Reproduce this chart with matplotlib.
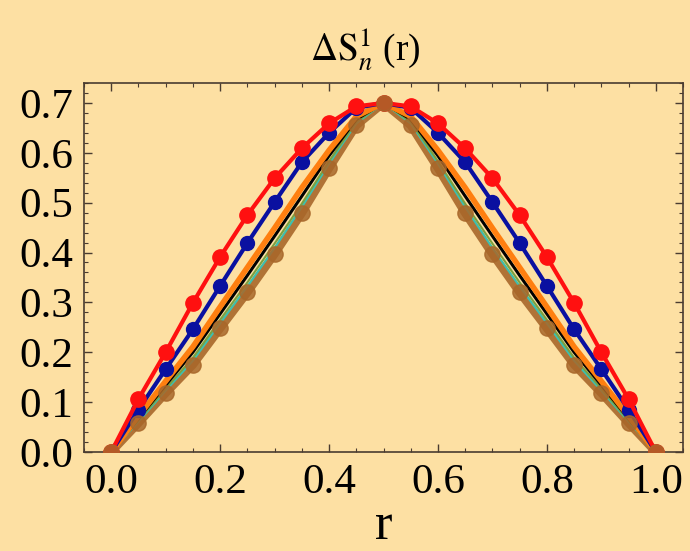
import numpy as np
import matplotlib.pyplot as plt
from matplotlib.ticker import MultipleLocator

# r grid (step 0.05)
r = [0.0, 0.05, 0.1, 0.15, 0.2, 0.25, 0.3, 0.35, 0.4, 0.45, 0.5,
     0.55, 0.6, 0.65, 0.7, 0.75, 0.8, 0.85, 0.9, 0.95, 1.0]

# Delta S values
s_red = [0.0, 0.106, 0.200, 0.299, 0.391, 0.475, 0.549, 0.609, 0.659, 0.693, 0.700,
         0.693, 0.659, 0.609, 0.549, 0.475, 0.391, 0.299, 0.200, 0.106, 0.0]
s_blue = [0.0, 0.085, 0.166, 0.246, 0.333, 0.419, 0.501, 0.581, 0.640, 0.690, 0.700,
          0.690, 0.640, 0.581, 0.501, 0.419, 0.333, 0.246, 0.166, 0.085, 0.0]
s_orange = [0.0, 0.072, 0.142, 0.211, 0.291, 0.370, 0.449, 0.530, 0.605, 0.673, 0.700,
            0.673, 0.605, 0.530, 0.449, 0.370, 0.291, 0.211, 0.142, 0.072, 0.0]
s_black = [0.0, 0.067, 0.134, 0.200, 0.277, 0.354, 0.433, 0.513, 0.594, 0.667, 0.700,
           0.667, 0.594, 0.513, 0.433, 0.354, 0.277, 0.200, 0.134, 0.067, 0.0]
s_green = [0.0, 0.063, 0.127, 0.189, 0.265, 0.340, 0.418, 0.498, 0.583, 0.662, 0.700,
           0.662, 0.583, 0.498, 0.418, 0.340, 0.265, 0.189, 0.127, 0.063, 0.0]
s_cyan = [0.0, 0.061, 0.123, 0.183, 0.258, 0.332, 0.409, 0.491, 0.578, 0.659, 0.700,
          0.659, 0.578, 0.491, 0.409, 0.332, 0.258, 0.183, 0.123, 0.061, 0.0]
s_brown = [0.0, 0.058, 0.118, 0.175, 0.248, 0.320, 0.397, 0.479, 0.569, 0.655, 0.700,
           0.655, 0.569, 0.479, 0.397, 0.320, 0.248, 0.175, 0.118, 0.058, 0.0]

bg = "#fde0a3"
fc = "#4a3c30"

plt.rcParams["font.family"] = ["Liberation Serif", "DejaVu Serif"]
plt.rcParams["mathtext.fontset"] = "stix"

fig = plt.figure(figsize=(6.9, 5.51), dpi=100, facecolor=bg)
ax = fig.add_axes([0.1217, 0.1797, 0.8682, 0.6697])
ax.set_facecolor(bg)

# brown band underneath, its dots on top
ax.plot(r, s_brown, color="#a8672a", lw=6, alpha=0.9, zorder=2)
ax.plot(r, s_cyan, color="#3cc0b0", lw=1.5, zorder=3)
ax.plot(r, s_green, color="#7aa040", lw=1.5, zorder=3)
ax.plot(r, s_black, color="black", lw=2.2, zorder=4)
ax.plot(r, s_orange, color="#ff7f10", lw=4, zorder=4)
ax.plot(r, s_blue, color="#0a10a0", lw=3, marker="o", ms=10, zorder=5)
ax.plot(r, s_red, color="#ff1010", lw=3, marker="o", ms=11, zorder=6)
ax.plot(r, s_brown, ls="none", marker="o", ms=11, color="#a8672a", alpha=0.85, zorder=7)

ax.set_xlim(-0.05, 1.05)
ax.set_ylim(0, 0.74)
ax.xaxis.set_major_locator(MultipleLocator(0.2))
ax.xaxis.set_minor_locator(MultipleLocator(0.05))
ax.yaxis.set_major_locator(MultipleLocator(0.1))
ax.yaxis.set_minor_locator(MultipleLocator(0.02))
ax.tick_params(which="both", direction="in", top=True, right=True, colors=fc,
               labelcolor="black", labelsize=31)
ax.tick_params(which="major", length=6, width=1, pad=8)
ax.tick_params(which="minor", length=3, width=0.8)
ax.xaxis.set_major_formatter(plt.FuncFormatter(lambda v, p: "%.1f" % v))
ax.yaxis.set_major_formatter(plt.FuncFormatter(lambda v, p: "%.1f" % v))
for sp in ax.spines.values():
    sp.set_color(fc)
    sp.set_linewidth(1.2)

ax.set_title(r"$\Delta\mathrm{S}_n^1$ (r)", fontsize=27, pad=16, x=0.47)
ax.set_xlabel("r", fontsize=38, labelpad=0)

fig.savefig("out.png", dpi=100, facecolor=bg)
